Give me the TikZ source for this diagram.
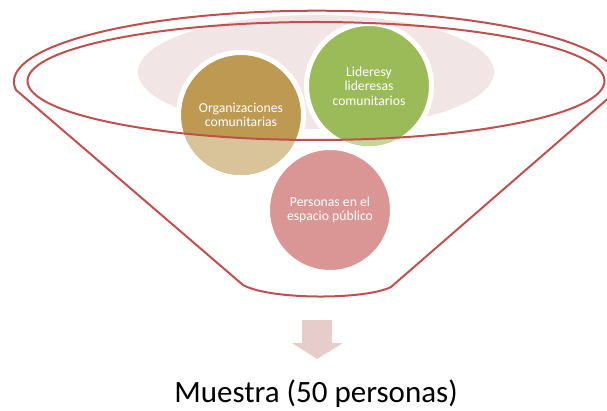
\documentclass[tikz,border=0pt]{standalone}
\usepackage{fontspec}
\setmainfont{Carlito}
\usepackage{tikz}
\usetikzlibrary{positioning}
\definecolor{rojo}{RGB}{192,80,77}
\definecolor{fondo}{RGB}{242,229,229}
\definecolor{oro}{RGB}{189,153,82}
\definecolor{oroclaro}{RGB}{216,196,152}
\definecolor{verde}{RGB}{155,187,89}
\definecolor{verdeclaro}{RGB}{196,215,155}
\definecolor{rosa}{RGB}{217,150,148}
\definecolor{flechita}{RGB}{231,204,204}

\begin{document}
\begin{tikzpicture}[x=1pt,y=-1pt,
  circulo/.style={circle,draw=white,line width=5pt,minimum size=125pt,inner sep=0pt,
    text=white,align=center,font=\fontsize{13.7}{14.5}\selectfont},
  borde/.style={draw=rojo,line width=2pt}]
\useasboundingbox (0,0) rectangle (607,411);
% Fondo
\fill[fondo] (316,72) ellipse [x radius=178,y radius=57]; % pink back
% Circulos
\node[circulo,fill=oro] (org) at (241,115) {Organizaciones\\comunitarias};
\node[circulo,fill=verde] (lid) at (369,86) {Lideresy\\lideresas\\comunitarios};
\node[circulo,fill=rosa] (per) at (330,210) {Personas en el\\espacio público};
% parte clara (fuera del embudo)
\begin{scope}[even odd rule]
\clip (0,0) rectangle (607,411) (316,81) ellipse [x radius=288.5,y radius=59];
\fill[oroclaro] (org.center) circle [radius=60];
\fill[verdeclaro] (lid.center) circle [radius=60];
\end{scope}
% Embudo
\draw[borde] (316,81) ellipse [x radius=288.5,y radius=59]; % inner rim
\draw[borde] (16,90) arc [start angle=173.3,end angle=366.7,x radius=303,y radius=71] % outer rim
  -- (391,287) .. controls (365,300) and (270,300) .. (243,285) -- cycle;
% Flecha
\coordinate (f) at (317,320);
\fill[flechita] (f) ++(-15,0) -- ++(30,0) -- ++(0,23) -- ++(11,0) -- (317,359)
  -- (292,343) -- (302,343) -- cycle;
% Muestra
\node[anchor=base,font=\fontsize{31}{33}\selectfont] (muestra) at (316,402.5) {Muestra (50 personas)};
\end{tikzpicture}
\end{document}
